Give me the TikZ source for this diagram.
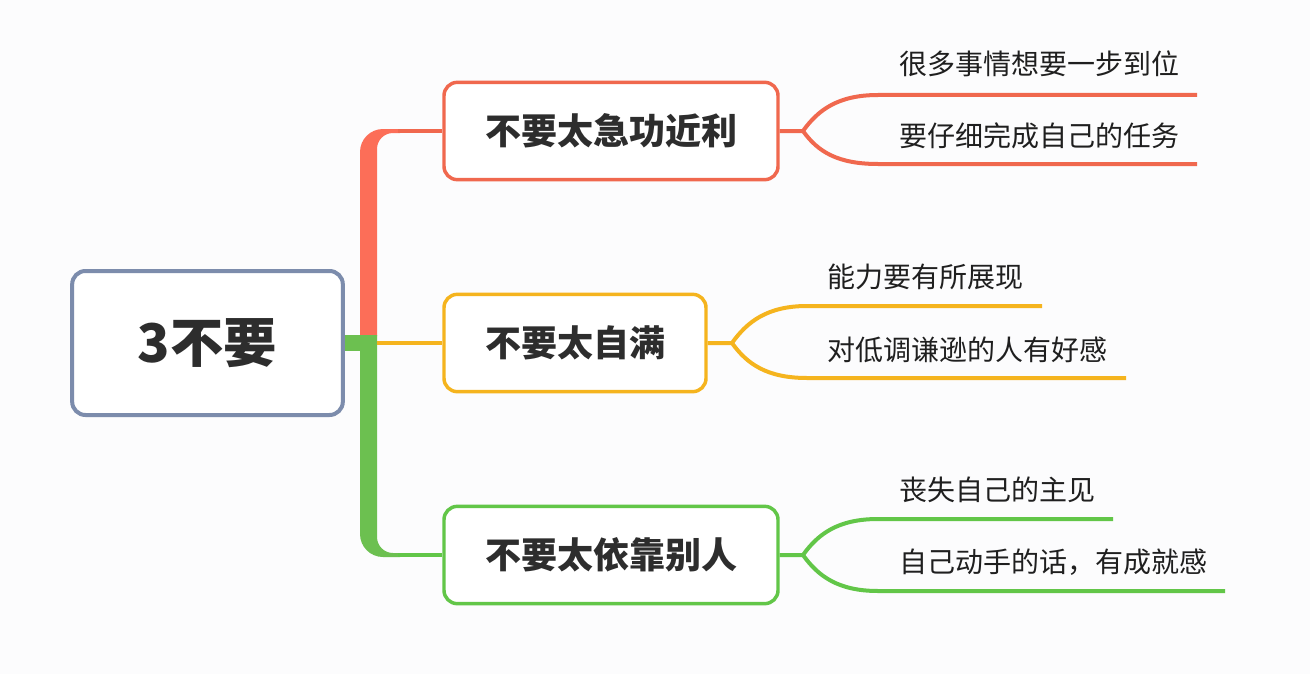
\documentclass[tikz,border=0pt]{standalone}
\usepackage{fontspec}
\newfontfamily\cjk{Noto Sans CJK SC}
\usetikzlibrary{positioning}

\definecolor{bgwhite}{RGB}{252,252,253}
\definecolor{rootblue}{RGB}{124,140,172}
\definecolor{mapred}{RGB}{240,104,78}
\definecolor{trunkred}{RGB}{252,110,88}
\definecolor{mapyellow}{RGB}{245,180,30}
\definecolor{mapgreen}{RGB}{98,198,72}
\definecolor{trunkgreen}{RGB}{108,192,80}
\definecolor{inkgray}{RGB}{45,45,45}

\tikzset{every picture/.style={line width=0.75pt}}
\tikzset{
  rootbox/.style={draw=rootblue, line width=3pt, rounded corners=10pt, fill=white,
    minimum width=203pt, minimum height=108pt, inner sep=0pt,
    font=\cjk\bfseries\fontsize{40}{44}\selectfont, text=inkgray},
  topicbox/.style={draw=#1, line width=2.6pt, rounded corners=10pt, fill=white,
    minimum height=73pt, inner sep=0pt,
    font=\cjk\bfseries\fontsize{27}{30}\selectfont, text=inkgray},
  leaftext/.style={anchor=west, inner sep=0.75pt,
    font=\cjk\fontsize{21}{24}\selectfont, text=black!88},
  topicline/.style={draw=#1, line width=3pt},
  leafline/.style={draw=#1, line width=3pt}
}

\begin{document}
\begin{tikzpicture}[x=0.75pt,y=0.75pt,yscale=-1,xscale=1]
  %background, diagram is 1310 x 674
  \fill[bgwhite] (0,0) rectangle (1310,674);
  \useasboundingbox (0,0) rectangle (1310,674);

  % Root Node
  \node[rootbox] (root) at (207.5,343) {3不要};
  % Topic Nodes
  \node[topicbox=mapred, minimum width=250.5pt] (haste) at (611,131) {不要太急功近利};
  \node[topicbox=mapyellow, minimum width=196.5pt] (smug) at (575,343) {不要太自满};
  \node[topicbox=mapgreen, minimum width=250.5pt] (lean) at (611,555) {不要太依靠别人};

  %Trunk upper part
  \fill[trunkred] (360,336) -- (360,152) arc[start angle=180, end angle=270, radius=23]
    -- (400,129) -- (400,133) -- (393,133) arc[start angle=270, end angle=180, radius=16] -- (377,336) -- cycle;
  %Trunk lower part
  \fill[trunkgreen] (360,335) -- (360,534) arc[start angle=180, end angle=90, radius=23]
    -- (400,557) -- (400,553) -- (393,553) arc[start angle=90, end angle=180, radius=16] -- (377,335) -- cycle;
  \coordinate (jtop) at (398,131);
  \coordinate (jmid) at (377,343);
  \coordinate (jbot) at (398,555);
  %Straight Lines
  \draw[trunkgreen, line width=12pt] (root.east) -- (jmid);
  \draw[topicline=mapred] (jtop) -- (haste.west);
  \draw[topicline=mapyellow] (jmid) -- (smug.west);
  \draw[topicline=mapgreen] (jbot) -- (lean.west);

  % Forks
  \coordinate (f1) at (803,131);
  \coordinate (f2) at (732,343);
  \coordinate (f3) at (803,555);

  %Curve Lines
  \draw[leafline=mapred] (haste.east) -- (f1) .. controls (818,110) and (838,95) .. (878,95) -- (1197,95);
  \draw[leafline=mapred] (f1) .. controls (818,152) and (838,164) .. (878,164) -- (1197,164);
  \draw[leafline=mapyellow] (smug.east) -- (f2) .. controls (747,322) and (767,306) .. (807,306) -- (1042,306);
  \draw[leafline=mapyellow] (f2) .. controls (747,364) and (767,378) .. (807,378) -- (1126,378);
  \draw[leafline=mapgreen] (lean.east) -- (f3) .. controls (818,534) and (838,519) .. (878,519) -- (1113,519);
  \draw[leafline=mapgreen] (f3) .. controls (818,576) and (838,591) .. (878,591) -- (1225,591);

  % Text Node
  \node[leaftext] (hasteA) at (898,64) {很多事情想要一步到位};
  % Text Node
  \node[leaftext] (hasteB) at (898,136) {要仔细完成自己的任务};
  % Text Node
  \node[leaftext] (smugA) at (826,277) {能力要有所展现};
  % Text Node
  \node[leaftext] (smugB) at (826,350) {对低调谦逊的人有好感};
  % Text Node
  \node[leaftext] (leanA) at (898,490) {丧失自己的主见};
  % Text Node
  \node[leaftext] (leanB) at (898,562) {自己动手的话，有成就感};

\end{tikzpicture}
\end{document}
